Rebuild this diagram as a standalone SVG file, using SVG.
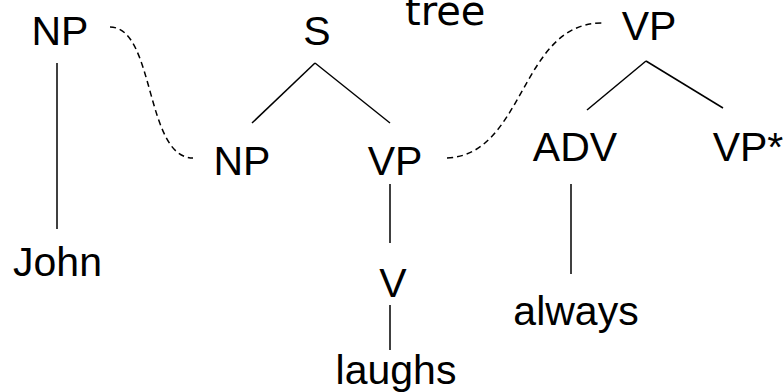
<svg xmlns="http://www.w3.org/2000/svg" width="783" height="392" viewBox="0 0 783 392">
<style>
.t{font-family:"Liberation Sans",Arial,sans-serif;font-size:41px;fill:#000;text-anchor:middle}
.d{font-family:"DejaVu Sans",Verdana,sans-serif;font-size:40px;fill:#000}
.e{stroke:#000;stroke-width:1.5;fill:none}
.k{stroke:#000;stroke-width:1.5;fill:none;stroke-dasharray:6 4}
</style>
<rect width="783" height="392" fill="#fff"/>
<g id="connectors">
<line class="e" x1="57" y1="63" x2="57" y2="229"/>
<line class="e" x1="315" y1="63" x2="252" y2="123"/>
<line class="e" x1="315" y1="63" x2="390" y2="123"/>
<line class="e" x1="390" y1="184" x2="390" y2="243"/>
<line class="e" x1="390" y1="305" x2="390" y2="350"/>
<line class="e" x1="646" y1="61" x2="587" y2="110"/>
<line class="e" x1="646" y1="61" x2="723" y2="108"/>
<line class="e" x1="571" y1="184" x2="571" y2="274"/>
<path class="k" d="M110 27 C155 27,145 158,193 158"/>
<path class="k" d="M447 158 C525 155,520 23,602 23"/>
</g>
<g id="np-john"><text class="t" x="60" y="45">NP</text></g>
<g id="john"><text class="t" x="57.5" y="276">John</text></g>
<g id="s"><text class="t" x="317" y="45">S</text></g>
<g id="np"><text class="t" x="242" y="175">NP</text></g>
<g id="vp"><text class="t" x="395" y="175">VP</text></g>
<g id="v"><text class="t" x="393" y="297">V</text></g>
<g id="laughs"><text class="t" x="396" y="384">laughs</text></g>
<g id="tree-label"><text class="d" x="405" y="25">tree</text></g>
<g id="vp-top"><text class="t" x="649" y="40">VP</text></g>
<g id="adv"><text class="t" x="575" y="161">ADV</text></g>
<g id="vp-star"><text class="t" x="748" y="161">VP*</text></g>
<g id="always"><text class="t" x="576" y="325">always</text></g>
</svg>
